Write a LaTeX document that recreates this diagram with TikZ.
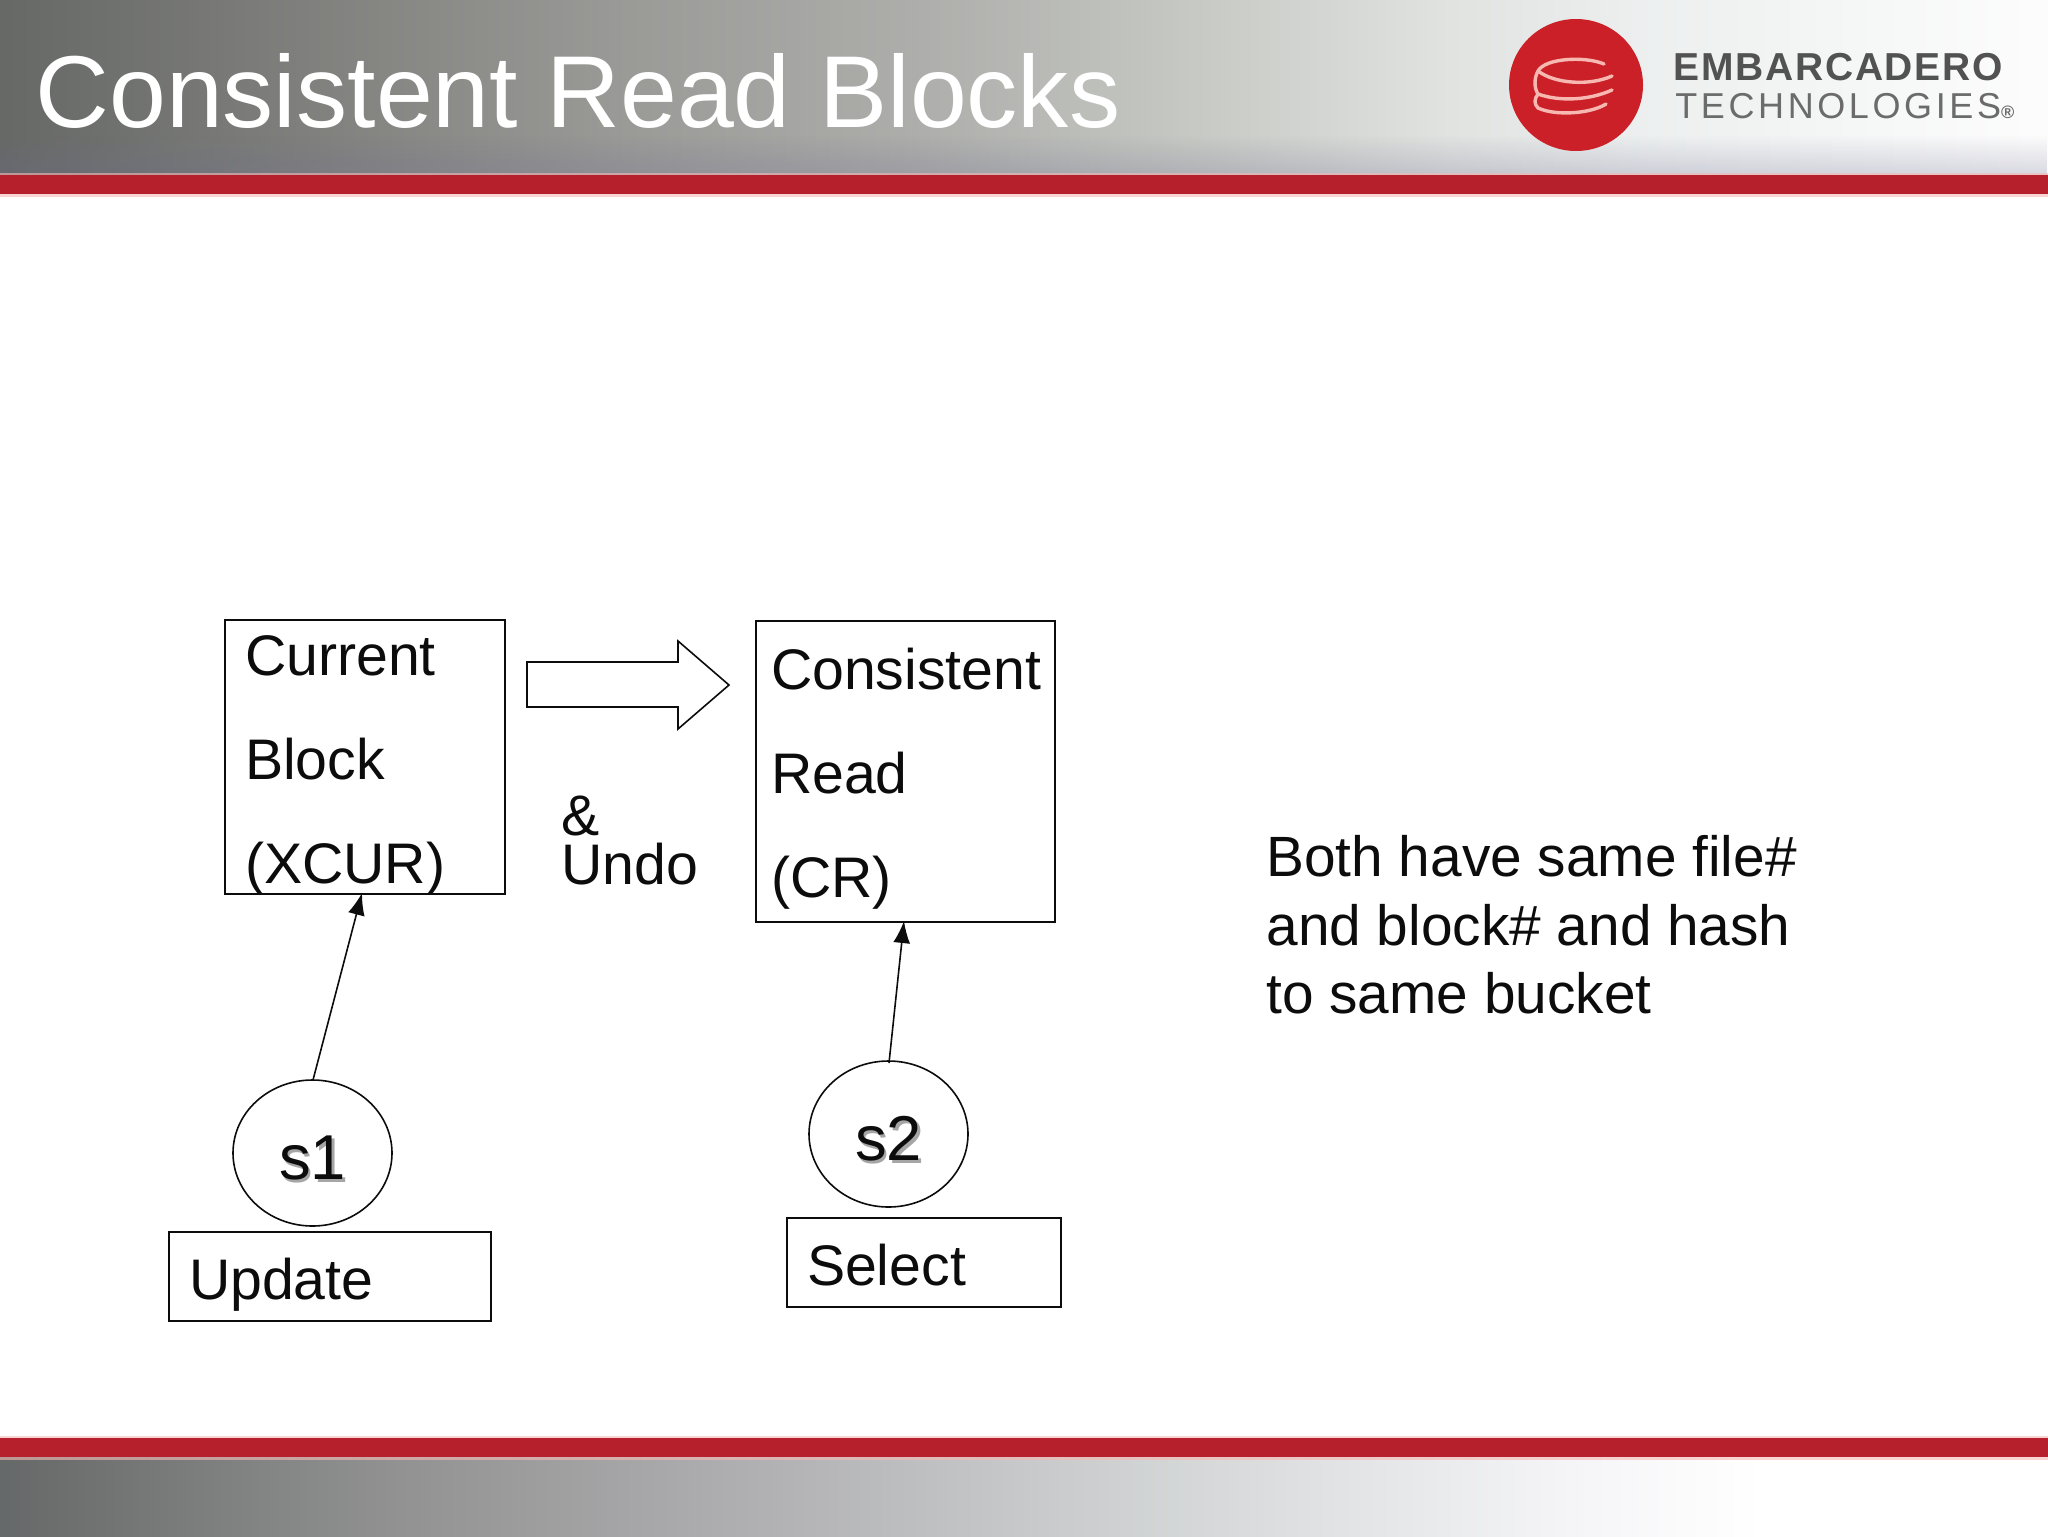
\documentclass[tikz,border=0pt]{standalone}
\usepackage{fontspec}
\setmainfont{Liberation Sans}
\usetikzlibrary{shapes.geometric,shapes.arrows,arrows.meta,fadings}
\pgfdeclarehorizontalshading{headgrad}{100bp}{rgb(0bp)=(0.40,0.41,0.40);rgb(25bp)=(0.40,0.41,0.40);rgb(32.5bp)=(0.50,0.50,0.49);rgb(40bp)=(0.60,0.60,0.59);rgb(47.4bp)=(0.68,0.68,0.67);rgb(54.3bp)=(0.78,0.79,0.77);rgb(60.4bp)=(0.88,0.89,0.88);rgb(65.3bp)=(0.93,0.94,0.94);rgb(75bp)=(0.99,0.99,0.99);rgb(100bp)=(0.99,0.99,0.99)}
\pgfdeclarehorizontalshading{footgrad}{100bp}{rgb(0bp)=(0.40,0.41,0.41);rgb(25bp)=(0.40,0.41,0.41);rgb(34.6bp)=(0.57,0.57,0.57);rgb(44.1bp)=(0.70,0.70,0.71);rgb(53.7bp)=(0.83,0.84,0.84);rgb(63.3bp)=(0.96,0.96,0.97);rgb(68bp)=(1,1,1);rgb(100bp)=(1,1,1)}
\definecolor{barred}{HTML}{B5202C}
\definecolor{barglow}{HTML}{F4B8B4}
\definecolor{logored}{HTML}{CB2027}
\definecolor{logoline}{HTML}{F6B8B0}
\definecolor{ink}{HTML}{0C0C0C}
\tikzset{
  bar/.style={fill=barred,draw=none},
  glow/.style={fill=barglow,draw=none,opacity=.6},
  boxed/.style={draw=ink,line width=1pt,inner xsep=10pt,inner ysep=0pt,anchor=north west,text=ink,
    font=\fontsize{28.6}{52}\selectfont},
  blob/.style={ellipse,draw=ink,line width=0.8pt,inner sep=0pt,minimum width=79.5pt,minimum height=73pt,text=ink,
    font=\fontsize{31.7}{36}\selectfont},
  plain/.style={inner sep=0pt,anchor=base west,text=ink,font=\fontsize{28.4}{34.3}\selectfont,align=left},
  link/.style={draw=ink,line width=0.8pt,-{Latex[length=11pt,width=8.5pt]}},
  stackline/.style={draw=logoline,line width=1.7pt,line cap=round},
}
\newcommand{\boxtxt}[4]{\parbox[c][#2][t]{#1}{\raggedright\rule{0pt}{#3}#4}}
\newcommand{\shadowed}[1]{\raisebox{-2pt}[22.7pt][0pt]{\rlap{\kern1.2pt\raisebox{-1.2pt}{\textcolor{black!35}{#1}}}#1}}
\begin{document}
\begin{tikzpicture}[x=0.5pt,y=-0.5pt]
\useasboundingbox (0,0) rectangle (2048,1536);
% header and footer bands
\path[shading=headgrad] (0,0) rectangle (2048,175);
\path[fill=black!10!blue!15!gray,path fading=north,opacity=.25] (0,135) rectangle (2048,175);
\path[bar] (0,175) rectangle (2048,194);
\path[glow] (0,172.5) rectangle (2048,175);
\path[glow] (0,194) rectangle (2048,196.5);
\path[bar] (0,1438) rectangle (2048,1457);
\path[shading=footgrad] (0,1457) rectangle (2048,1536);
\path[glow] (0,1435.5) rectangle (2048,1438);
\path[glow] (0,1457) rectangle (2048,1459.5);
% title
\node[anchor=base west,inner sep=0pt,text=white,font=\fontsize{51.1}{60}\selectfont] (title) at (35,127) {Consistent Read Blocks};
% logo
\node[ellipse,fill=logored,draw=none,minimum width=67pt,minimum height=66pt,inner sep=0pt] (logo) at (1576,85) {};
\draw[stackline] (1604,64) .. controls (1585,56) and (1545,58) .. (1538,71) .. controls (1534,78) and (1534,88) .. (1538,94) .. controls (1534,99) and (1534,104) .. (1538,108) .. controls (1555,116) and (1590,114) .. (1606,104);
\draw[stackline] (1538,71) .. controls (1555,84) and (1590,86) .. (1612,76);
\draw[stackline] (1538,94) .. controls (1560,102) and (1590,100) .. (1612,90);
% brand
\node[anchor=base west,inner sep=0pt,text=black!68,font=\fontsize{19.5}{22}\bfseries\addfontfeature{LetterSpace=4.5}] (brand) at (1673,81) {EMBARCADERO};
\node[anchor=base west,inner sep=0pt,text=black!58,font=\fontsize{18}{22}\selectfont\addfontfeature{LetterSpace=10}] (brand2) at (1675,119) {TECHNOLOGIES\fontsize{9}{10}\selectfont\bfseries ®};
% diagram
\node[boxed] (cur) at (224,619) {\boxtxt{120pt}{137pt}{27.5pt}{Current\\Block\\(XCUR)}};
\node[boxed,inner xsep=7.5pt] (cons) at (755,620) {\boxtxt{134.5pt}{150.5pt}{34.2pt}{Consistent\\Read\\(CR)}};
\node[boxed] (upd) at (168,1231) {\boxtxt{141pt}{44.5pt}{33.5pt}{Update}};
\node[boxed] (sel) at (786,1217) {\boxtxt{117pt}{44.5pt}{33.5pt}{Select}};
\node[blob] (s1) at (312.5,1153) {\shadowed{s1}};
\node[blob] (s2) at (888.5,1134) {\shadowed{s2}};
\node[plain,font=\fontsize{28.6}{24.5}\selectfont] (undo) at (561,884) {\&\\Undo};
\node[plain,anchor=north west] (both) at (1266,835) {Both have same file\#\\and block\# and hash\\to same bucket};
\coordinate (curin) at (362,893);
\coordinate (consin) at (904,921);
\coordinate (s1out) at (313,1080);
\coordinate (s2out) at (889,1063);
\draw[link] (s1out) -- (curin);
\draw[link] (s2out) -- (consin);
% block arrow
\draw[draw=ink,line width=0.8pt,fill=white] (527,662) -- (678,662) -- (678,641) -- (729,685) -- (678,729) -- (678,707) -- (527,707) -- cycle;
\end{tikzpicture}
\end{document}
